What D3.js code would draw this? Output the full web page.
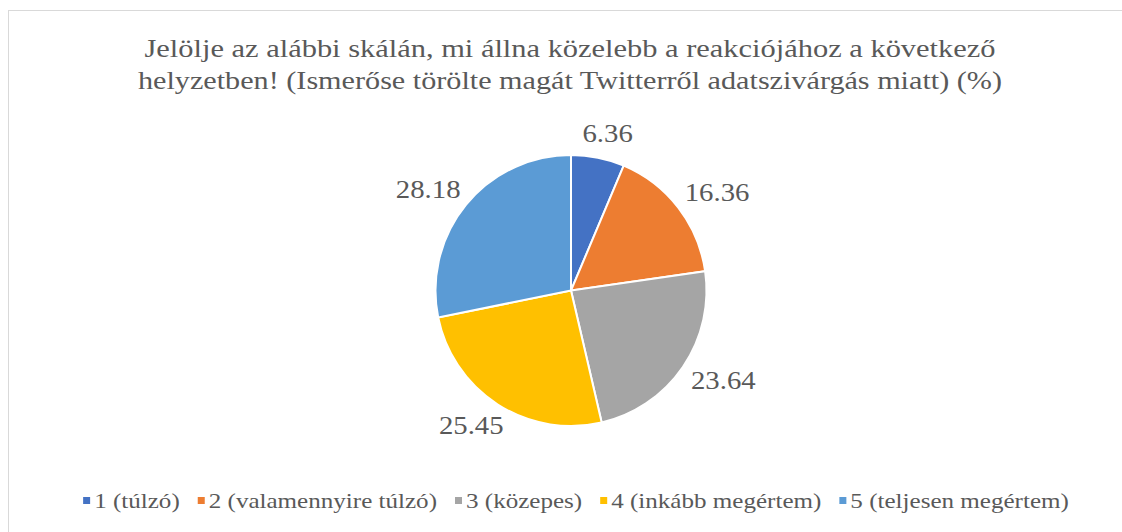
<!DOCTYPE html>
<html>
<head>
<meta charset="utf-8">
<script src="https://cdn.jsdelivr.net/npm/d3@7"></script>
<style>
  body { margin: 0; background: #fff; }
</style>
</head>
<body>
<svg width="1122" height="532"></svg>
<script>
// chart data
var categories = ["1 (túlzó)", "2 (valamennyire túlzó)", "3 (közepes)", "4 (inkább megértem)", "5 (teljesen megértem)"];
var values = [6.36, 16.36, 23.64, 25.45, 28.18];
var colors = ["#4472C4", "#ED7D31", "#A5A5A5", "#FFC000", "#5B9BD5"];
var titleLines = ["Jelölje az alábbi skálán, mi állna közelebb a reakciójához a következő",
                  "helyzetben! (Ismerőse törölte magát Twitterről adatszivárgás miatt) (%)"];

(function () {
    var svg = d3.select("svg");
    var font = "'Liberation Serif'";
    var textColor = "#595959";
    var sx = 1.15; // the source text is a bit wider than the font
    var cx = 571, cy = 290.5, r = 135.5;

    svg.append("rect")
        .attr("x", 8.5).attr("y", 10.5)
        .attr("width", 1130).attr("height", 540)
        .attr("fill", "none").attr("stroke", "#d9d9d9");

    // title
    svg.selectAll(".title")
        .data(titleLines)
        .enter().append("text")
        .attr("class", "title")
        .attr("text-anchor", "middle")
        .attr("x", 570)
        .attr("y", function (d, i) { return 57 + i * 32; })
        .attr("textLength", function (d, i) { return i === 0 ? 851 : 864; })
        .attr("lengthAdjust", "spacingAndGlyphs")
        .style("font-family", font)
        .style("font-size", "25px")
        .style("fill", textColor)
        .text(function (d) { return d; });

    var pie = d3.pie().sort(null).value(function (d) { return d; });
    var arcs = pie(values);
    var arc = d3.arc().innerRadius(0).outerRadius(r);

    var g = svg.append("g").attr("transform", "translate(" + cx + "," + cy + ")");

    g.selectAll(".slice")
        .data(arcs)
        .enter().append("path")
        .attr("class", "slice")
        .attr("d", arc)
        .attr("fill", function (d, i) { return colors[i]; })
        .attr("stroke", "#fff")
        .attr("stroke-width", 2);

    // outside-end labels
    var halfW = 33, halfH = 8.5, pad = 16;
    g.selectAll(".lbl")
        .data(arcs)
        .enter().append("text")
        .attr("class", "lbl")
        .attr("text-anchor", "middle")
        .style("font-family", font)
        .style("font-size", "25px")
        .style("fill", textColor)
        .attr("transform", function (d) {
            var a = (d.startAngle + d.endAngle) / 2;
            var s = Math.sin(a), c = Math.cos(a);
            var x = (r + pad) * s + s * halfW;
            var y = -(r + pad) * c - c * halfH + halfH;
            return "translate(" + x + "," + y + ") scale(" + sx + ",1)";
        })
        .text(function (d) { return d3.format(".2f")(d.value); });

    // legend
    var legend = svg.append("g").attr("class", "legend");
    var items = legend.selectAll(".item")
        .data(categories)
        .enter().append("g")
        .attr("class", "item");
    items.append("rect")
        .attr("width", 7).attr("height", 7)
        .attr("y", -11)
        .attr("fill", function (d, i) { return colors[i]; });
    items.append("text")
        .attr("transform", "translate(11,0) scale(" + sx + ",1)")
        .style("font-family", font)
        .style("font-size", "21.8px")
        .style("fill", textColor)
        .text(function (d) { return d; });

    var widths = [];
    items.each(function () {
        widths.push(11 + d3.select(this).select("text").node().getComputedTextLength() * sx);
    });
    var gap = 18;
    var total = d3.sum(widths) + gap * (widths.length - 1);
    var x0 = 576 - total / 2;
    items.attr("transform", function (d, i) {
        var x = x0 + d3.sum(widths.slice(0, i)) + gap * i;
        return "translate(" + x + ",508)";
    });
}());
</script>
</body>
</html>
